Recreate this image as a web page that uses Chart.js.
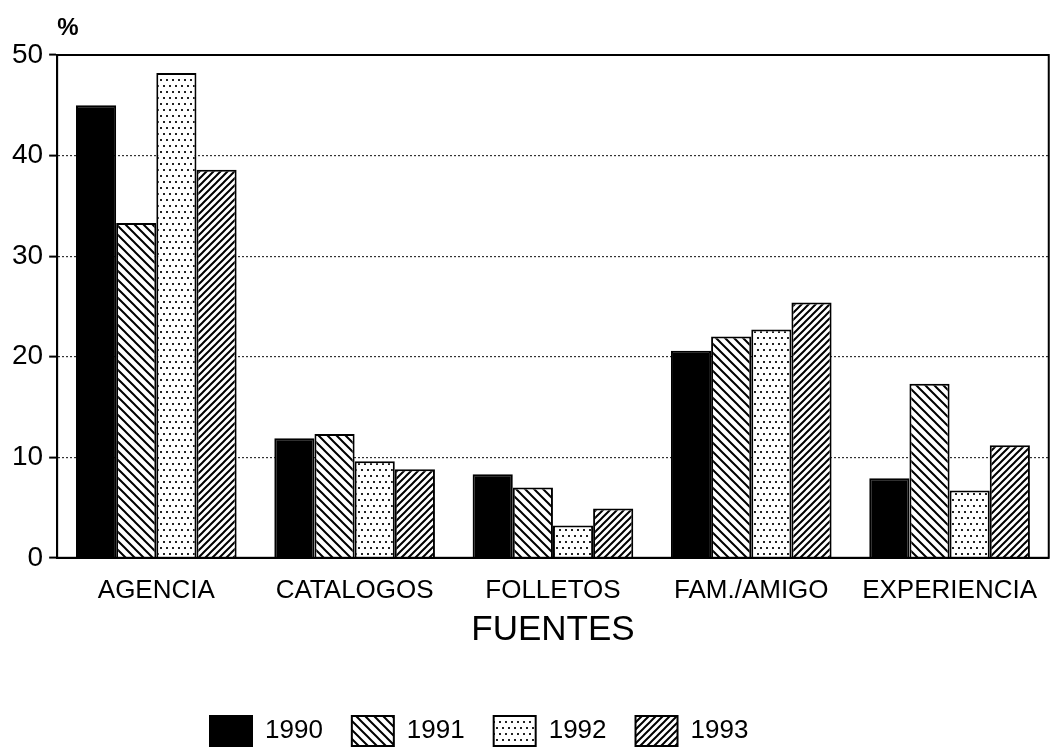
<!DOCTYPE html>
<html lang="es">
<head>
    <meta charset="UTF-8">
    <title>Fuentes de información</title>
    <script src="https://cdn.jsdelivr.net/npm/chart.js@4.4.0/dist/chart.umd.min.js"></script>
    <style>
        html, body { margin: 0; padding: 0; background: #fff; }
        .wrap { width: 1054px; height: 756px; }
    </style>
</head>
<body>
    <div class="wrap"><canvas id="fuentesChart"></canvas></div>

    <script>
        // Data
        const categories = ['AGENCIA', 'CATALOGOS', 'FOLLETOS', 'FAM./AMIGO', 'EXPERIENCIA'];
        const years = ['1990', '1991', '1992', '1993'];
        const v1990 = [45.0, 11.9, 8.3, 20.6, 7.9];
        const v1991 = [33.3, 12.3, 7.0, 22.0, 17.3];
        const v1992 = [48.2, 9.6, 3.2, 22.7, 6.7];
        const v1993 = [38.6, 8.8, 4.9, 25.4, 11.2];
        const yTicks = [0, 10, 20, 30, 40, 50];

        const FONT = '"Liberation Sans", Arial, Helvetica, sans-serif';

        // Hatch / dot patterns like the print original
        function makePattern(kind) {
            const c = document.createElement('canvas');
            const g = c.getContext('2d');
            if (kind === 'back') {
                const s = 9;
                c.width = s; c.height = s;
                g.fillStyle = '#fff'; g.fillRect(0, 0, s, s);
                g.strokeStyle = '#000'; g.lineWidth = 2;
                g.beginPath();
                g.moveTo(-1, -1); g.lineTo(s + 1, s + 1);
                g.moveTo(-1, s - 1); g.lineTo(1, s + 1);
                g.moveTo(s - 1, -1); g.lineTo(s + 1, 1);
                g.stroke();
            } else if (kind === 'fwd') {
                const s = 7;
                c.width = s; c.height = s;
                g.fillStyle = '#fff'; g.fillRect(0, 0, s, s);
                g.strokeStyle = '#000'; g.lineWidth = 2;
                g.beginPath();
                g.moveTo(-1, s + 1); g.lineTo(s + 1, -1);
                g.moveTo(-1, 1); g.lineTo(1, -1);
                g.moveTo(s - 1, s + 1); g.lineTo(s + 1, s - 1);
                g.stroke();
            } else {
                const s = 12;
                c.width = s; c.height = s;
                g.fillStyle = '#fff'; g.fillRect(0, 0, s, s);
                g.fillStyle = '#222';
                g.fillRect(1, 1, 2, 2);
                g.fillRect(7, 1, 2, 2);
                g.fillRect(4, 7, 2, 2);
                g.fillRect(10, 7, 2, 2);
            }
            return g.createPattern(c, 'repeat');
        }

        const fills = ['#000', makePattern('back'), makePattern('dots'), makePattern('fwd')];
        const series = [v1990, v1991, v1992, v1993];

        // frame around the plot + the "%" label
        const framePlugin = {
            id: 'frame',
            afterLayout(chart) {
                // legend in the original sits left of centre
                const lg = chart.legend;
                if (lg) { lg.left = 210 - lg.options.labels.padding; }
            },
            afterDraw(chart) {
                const a = chart.chartArea;
                const ctx = chart.ctx;
                ctx.save();
                ctx.strokeStyle = '#000';
                ctx.lineWidth = 2;
                ctx.strokeRect(a.left, a.top, a.right - a.left, a.bottom - a.top);
                ctx.fillStyle = '#000';
                ctx.font = 'bold 24px ' + FONT;
                ctx.textAlign = 'left';
                ctx.textBaseline = 'middle';
                ctx.fillText('%', a.left, a.top - 27);
                ctx.restore();
            }
        };

        const ctx = document.getElementById('fuentesChart').getContext('2d');
        new Chart(ctx, {
            type: 'bar',
            data: {
                labels: categories,
                datasets: years.map((y, i) => ({
                    label: y,
                    data: series[i],
                    backgroundColor: fills[i],
                    borderColor: '#000',
                    borderWidth: 2,
                    categoryPercentage: 0.81,
                    barPercentage: 1.0
                }))
            },
            options: {
                responsive: true,
                maintainAspectRatio: false,
                animation: false,
                layout: { padding: { top: 55, right: 0, left: 6, bottom: 0 } },
                plugins: {
                    tooltip: { enabled: false },
                    legend: {
                        position: 'bottom',
                        align: 'start',
                        labels: {
                            color: '#000',
                            font: { family: FONT, size: 26 },
                            boxWidth: 42,
                            boxHeight: 30,
                            padding: 29,
                            useBorderRadius: false
                        }
                    }
                },
                scales: {
                    x: {
                        grid: { display: false, drawTicks: false },
                        border: { display: true, color: '#000', width: 2 },
                        ticks: {
                            color: '#000',
                            font: { family: FONT, size: 26 },
                            padding: 17,
                            maxRotation: 0,
                            autoSkip: false
                        },
                        title: {
                            display: true,
                            text: 'FUENTES',
                            color: '#000',
                            font: { family: FONT, size: 35 },
                            padding: { top: -14, bottom: 36 }
                        }
                    },
                    y: {
                        min: 0,
                        max: 50,
                        afterBuildTicks: (axis) => { axis.ticks = yTicks.map(v => ({ value: v })); },
                        grid: {
                            color: '#333',
                            lineWidth: 1.2,
                            tickLength: 8,
                            tickColor: '#000',
                            tickWidth: 2
                        },
                        border: { display: true, color: '#000', width: 2, dash: [2, 2] },
                        ticks: {
                            color: '#000',
                            font: { family: FONT, size: 28 },
                            padding: 6
                        }
                    }
                }
            },
            plugins: [framePlugin]
        });
    </script>
</body>
</html>
